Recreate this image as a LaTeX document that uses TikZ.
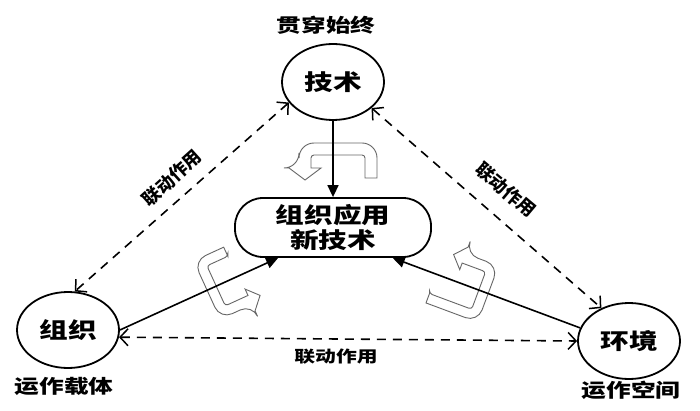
\documentclass[tikz,border=0pt]{standalone}
\usepackage{fontspec}
\setmainfont{Noto Sans CJK SC}
\usetikzlibrary{arrows.meta,shapes.geometric}
\newcommand\sx[1]{\scalebox{1.3}[1]{#1}}
% #1 origin, #2 angle, #3 half gap, #4 band width, #5 tail length, #6 shaft end, #7 head extra, #8 head length
\newcommand\uarr[8]{%
  \begin{scope}[shift={#1}, rotate=#2]
    \path[uar] ({#5},{-#3}) -- ({#5},{-#3-#4}) [rounded corners={#4+3}] -- (0,{-#3-#4}) -- (0,{#3+#4}) -- ({#6},{#3+#4}) [sharp corners]
      -- ({#6},{#3+#4+#7}) -- ({#6+#8},{#3+#4/2}) -- ({#6},{#3-#7}) -- ({#6},{#3}) [rounded corners=3]
      -- ({#4},{#3}) -- ({#4},{-#3}) -- ({#5},{-#3}) [sharp corners] -- cycle;
  \end{scope}}
\begin{document}
\begin{tikzpicture}[x=1pt,y=-1pt,
  ell/.style={draw, line width=1.8pt, ellipse, inner sep=0pt, minimum width=102pt, minimum height=76pt,
    font=\fontsize{22}{22}\selectfont\bfseries},
  ctr/.style={draw, line width=1.8pt, rounded corners=28pt, minimum width=196pt, minimum height=59pt,
    inner sep=0pt, align=center, font=\fontsize{22}{25}\selectfont\bfseries},
  lab/.style={font=\fontsize{19}{19}\selectfont\bfseries, inner sep=0pt},
  lnk/.style={font=\fontsize{16}{16}\selectfont\bfseries, inner sep=0pt},
  mainarrow/.style={line width=1.6pt, -{Triangle[length=12pt,width=11pt]}},
  dsh/.style={line width=1.6pt, dash pattern=on 9pt off 7pt,
    {Straight Barb[length=8pt,width=17pt,line width=1.5pt]}-{Straight Barb[length=8pt,width=17pt,line width=1.5pt]}},
  uar/.style={draw=black!60, fill=white, line width=0.9pt}]
\useasboundingbox (0,0) rectangle (700,411);
\fill[white] (0,0) rectangle (700,411);

% hollow turning arrows
\uarr{(338,143)}{-90}{27}{12}{35}{25}{10}{12}
\uarr{(207,290)}{24.6}{22}{10}{33}{35}{7}{11}
\uarr{(488,294)}{159.6}{20}{10}{55}{35}{7}{11}

% nodes
\node[ell] (js) at (333,82) {\sx{技术}};
\node[ell] (zz) at (68,330) {\sx{组织}};
\node[ell] (hj) at (629,341) {\sx{环境}};
\node[ctr] (ct) at (333,227.5) {\sx{组织应用}\\\sx{新技术}};

\node[lab] (t1) at (326,25) {\sx{贯穿始终}};
\node[lab] (t2) at (64,386) {\sx{运作载体}};
\node[lab] (t3) at (631,390) {\sx{运作空间}};

% connectors
\draw[mainarrow] (js) -- (ct);
\draw[mainarrow] (zz.east) -- (ct.209);
\draw[mainarrow] (hj.165) -- (ct.333);

\draw[dsh] (js.205) -- (zz.80);
\draw[dsh] (js.326) -- (hj.130);
\draw[dsh] (zz.352) -- (hj.180);

\node[lnk, font=\fontsize{18}{18}\selectfont\bfseries, rotate=42] (l1) at (172,178) {联动作用};
\node[lnk, font=\fontsize{18}{18}\selectfont\bfseries, rotate=-40] (l2) at (506,190) {联动作用};
\node[lnk] (l3) at (336,357) {\sx{联动作用}};
\end{tikzpicture}
\end{document}
